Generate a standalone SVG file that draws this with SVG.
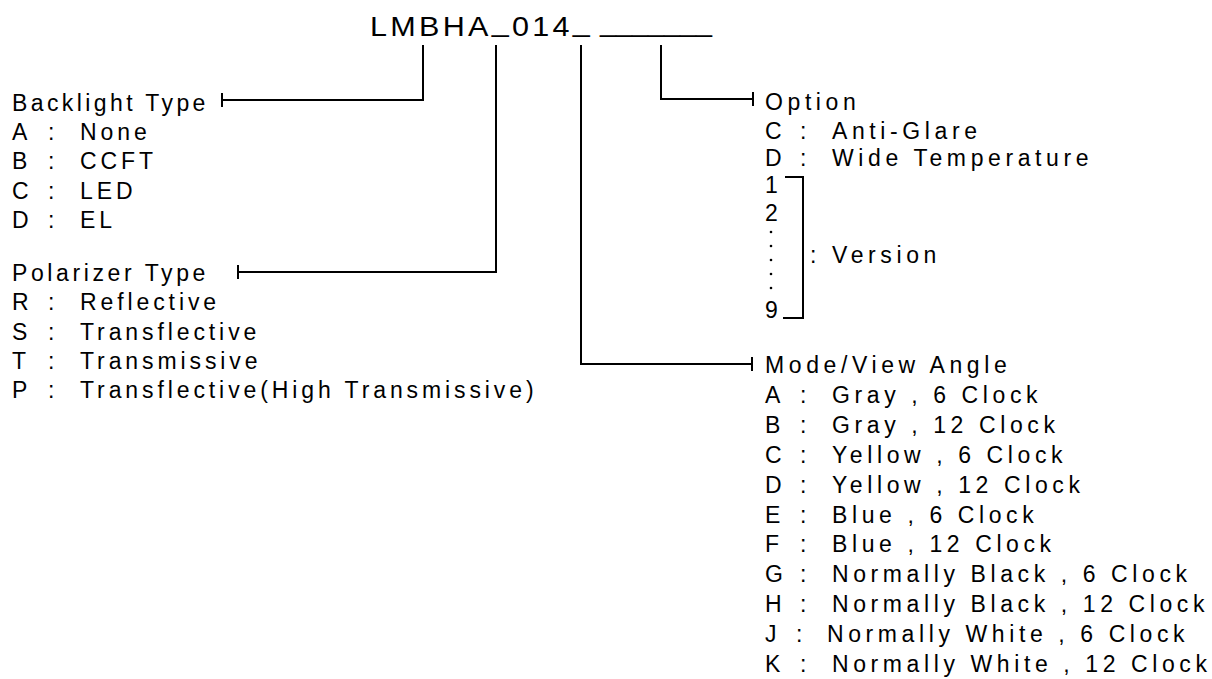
<svg xmlns="http://www.w3.org/2000/svg" width="1212" height="679" viewBox="0 0 1212 679">
<style>
.t{font-family:"Liberation Sans",Arial,sans-serif;font-size:23px;letter-spacing:3.9px;fill:#000}
.r{letter-spacing:4.6px}
.title{font-family:"Liberation Sans",Arial,sans-serif;font-size:28px;letter-spacing:3px;fill:#000}
.ln{stroke:#000;stroke-width:2;fill:none}
</style>
<rect width="1212" height="679" fill="#fff"/>
<g id="title">
<text class="title" x="370" y="36" textLength="223" lengthAdjust="spacingAndGlyphs">LMBHA<tspan dy="-5">_</tspan><tspan dy="5">014</tspan><tspan dy="-5">_</tspan></text>
<text class="title" x="600" y="31" textLength="112" lengthAdjust="spacingAndGlyphs" style="letter-spacing:0">_______</text>
</g>
<g id="connectors" class="ln">
<path d="M423,45 V100 H222 M222,93 V107"/>
<path d="M496,45 V272 H238 M238,265 V279"/>
<path d="M581,45 V364 H752 M752,357 V371"/>
<path d="M661,45 V99 H753 M753,92 V106"/>
</g>
<g id="backlight">
<text class="t" x="12" y="111" style="letter-spacing:3.4px">Backlight Type</text>
<text class="t" y="140"><tspan x="12">A </tspan><tspan x="48">: </tspan><tspan x="80">None</tspan></text>
<text class="t" y="169"><tspan x="12">B </tspan><tspan x="48">: </tspan><tspan x="80">CCFT</tspan></text>
<text class="t" y="199"><tspan x="12">C </tspan><tspan x="48">: </tspan><tspan x="80">LED</tspan></text>
<text class="t" y="228"><tspan x="12">D </tspan><tspan x="48">: </tspan><tspan x="80">EL</tspan></text>
</g>
<g id="polarizer">
<text class="t" x="12" y="281" style="letter-spacing:3.6px">Polarizer Type</text>
<text class="t" y="310"><tspan x="12">R </tspan><tspan x="48">: </tspan><tspan x="80">Reflective</tspan></text>
<text class="t" y="340"><tspan x="12">S </tspan><tspan x="48">: </tspan><tspan x="80">Transflective</tspan></text>
<text class="t" y="369"><tspan x="12">T </tspan><tspan x="48">: </tspan><tspan x="80">Transmissive</tspan></text>
<text class="t" y="398"><tspan x="12">P </tspan><tspan x="48">: </tspan><tspan x="80">Transflective(High Transmissive)</tspan></text>
</g>
<g id="option">
<text class="t r" x="765" y="110">Option</text>
<text class="t r" y="139"><tspan x="765">C </tspan><tspan x="800">: </tspan><tspan x="832">Anti-Glare</tspan></text>
<text class="t r" y="166"><tspan x="765">D </tspan><tspan x="800">: </tspan><tspan x="832">Wide Temperature</tspan></text>
</g>
<g id="version">
<text class="t" x="765" y="193">1</text>
<text class="t" x="765" y="221">2</text>
<text class="t" x="765" y="318">9</text>
<g fill="#000"><circle cx="771" cy="232" r="1.3"/><circle cx="771" cy="246" r="1.3"/><circle cx="771" cy="260" r="1.3"/><circle cx="771" cy="274" r="1.3"/><circle cx="771" cy="288" r="1.3"/></g>
<path class="ln" d="M785,177 H803 V318 H783"/>
<text class="t r" y="263"><tspan x="810">: </tspan><tspan x="832">Version</tspan></text>
</g>
<g id="mode">
<text class="t r" x="765" y="373">Mode/View Angle</text>
<text class="t r" y="403"><tspan x="765">A </tspan><tspan x="800">: </tspan><tspan x="832">Gray , 6 Clock</tspan></text>
<text class="t r" y="433"><tspan x="765">B </tspan><tspan x="800">: </tspan><tspan x="832">Gray , 12 Clock</tspan></text>
<text class="t r" y="463"><tspan x="765">C </tspan><tspan x="800">: </tspan><tspan x="832">Yellow , 6 Clock</tspan></text>
<text class="t r" y="493"><tspan x="765">D </tspan><tspan x="800">: </tspan><tspan x="832">Yellow , 12 Clock</tspan></text>
<text class="t r" y="523"><tspan x="765">E </tspan><tspan x="800">: </tspan><tspan x="832">Blue , 6 Clock</tspan></text>
<text class="t r" y="552"><tspan x="765">F </tspan><tspan x="800">: </tspan><tspan x="832">Blue , 12 Clock</tspan></text>
<text class="t r" y="582"><tspan x="765">G </tspan><tspan x="800">: </tspan><tspan x="832">Normally Black , 6 Clock</tspan></text>
<text class="t r" y="612"><tspan x="765">H </tspan><tspan x="800">: </tspan><tspan x="832">Normally Black , 12 Clock</tspan></text>
<text class="t r" y="642"><tspan x="765">J </tspan><tspan x="796">: </tspan><tspan x="827">Normally White , 6 Clock</tspan></text>
<text class="t r" y="672"><tspan x="765">K </tspan><tspan x="800">: </tspan><tspan x="832">Normally White , 12 Clock</tspan></text>
</g>
</svg>
